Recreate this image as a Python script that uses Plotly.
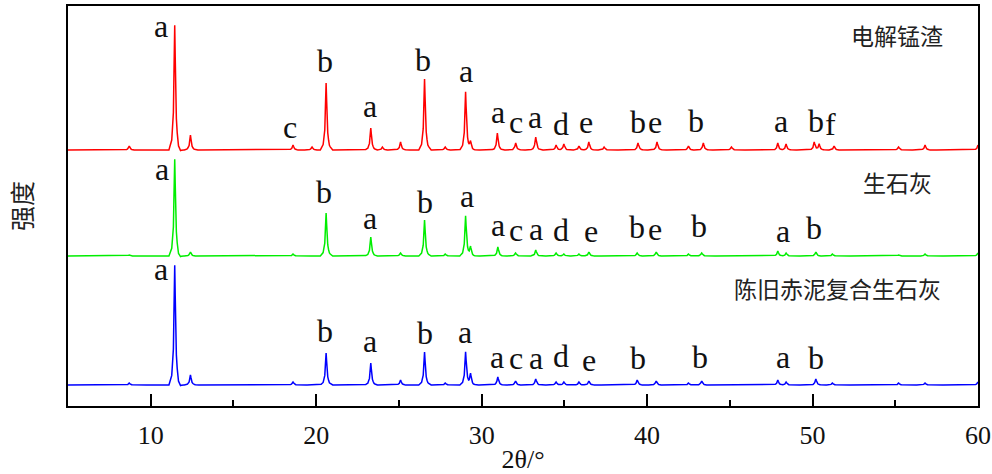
import numpy as np
import plotly.graph_objects as go

# ---------------- data ----------------
# peak positions (2θ, °) and peak heights (arbitrary intensity units) for each sample
red_pos = [8.7, 11.45, 11.68, 12.4, 18.6, 19.75, 20.6, 24.0, 23.3, 25.1, 26.55, 27.8, 29.03, 29.33,
           30.95, 32.06, 33.27, 34.5, 34.97, 35.88, 36.48, 37.4, 39.45, 40.6, 42.5, 43.4, 45.1,
           47.9, 48.4, 50.1, 50.4, 51.3, 55.2, 56.8, 60.0]
red_h = [4, 125, -3, 15, 5, 3, 67, 3, 22, 8, 71, 3, 58, 8,
         17, 7, 13, 5, 6, 4, 8, 3, 7, 8, 4, 7, 3,
         7, 6, 8, 6, 4, 3, 5, 5]

green_pos = [8.7, 11.45, 11.68, 12.4, 18.6, 20.6, 23.3, 25.1, 26.55, 27.8, 29.03, 29.33, 30.98,
             32.05, 33.27, 34.5, 34.97, 35.88, 36.48, 39.4, 40.55, 42.5, 43.3, 47.9, 48.4, 50.2,
             51.2, 55.2, 56.8, 60.0]
green_h = [1, 97, -3, 4, 2, 43, 19, 3, 36, 2, 40, 9, 9,
           3, 6, 3, 2, 2, 4, 3, 4, 2, 3, 5, 3, 4,
           2, 1, 2, 3]

blue_pos = [8.7, 11.45, 11.68, 12.4, 18.6, 20.6, 23.3, 25.1, 26.55, 27.8, 29.03, 29.33, 30.98,
            32.05, 33.27, 34.5, 34.97, 35.88, 36.48, 39.4, 40.55, 42.5, 43.3, 47.9, 48.4, 50.2,
            51.2, 55.2, 56.8, 60.0]
blue_h = [2, 120, -3, 10, 3, 32, 22, 5, 33, 2, 33, 11, 8,
          4, 6, 3, 3, 3, 4, 5, 4, 2, 4, 5, 3, 6,
          2, 2, 2, 3]

# vertical offsets of the stacked patterns
red_offset = 256
green_offset = 150
blue_offset = 21

# phase labels: 2θ position, label baseline height, letter
red_lbl_x = [10.65, 18.4, 20.55, 23.27, 26.45, 29.06, 31.0, 32.06, 33.24, 34.82, 36.33, 39.48, 40.5, 42.94, 48.12, 50.2, 51.1]
red_lbl_y = [369, 268, 334, 289, 335, 324, 283, 273, 278, 271, 273, 273, 273, 274, 274, 274, 271]
red_lbl_t = ["a", "c", "b", "a", "b", "a", "a", "c", "a", "d", "e", "b", "e", "b", "a", "b", "f"]

green_lbl_x = [10.7, 20.5, 23.27, 26.58, 29.1, 31.0, 32.06, 33.27, 34.8, 36.6, 39.36, 40.5, 43.15, 48.24, 50.1]
green_lbl_y = [226, 203, 177, 193, 199, 170, 165, 166, 165, 164, 168, 166, 169, 164, 167]
green_lbl_t = ["a", "b", "a", "b", "a", "a", "c", "a", "d", "e", "b", "e", "b", "a", "b"]

blue_lbl_x = [10.64, 20.55, 23.24, 26.58, 29.0, 30.94, 32.06, 33.27, 34.8, 36.5, 39.45, 43.2, 48.24, 50.2]
blue_lbl_y = [126, 64, 54, 62, 63, 38, 37, 37, 39, 35, 37, 38, 38, 37]
blue_lbl_t = ["a", "b", "a", "b", "a", "a", "c", "a", "d", "e", "b", "b", "a", "b"]

sample_names = ["电解锰渣", "生石灰", "陈旧赤泥复合生石灰"]
sample_name_x = [55.1, 55.15, 51.48]
sample_name_y = [371, 224, 118.5]

x_ticks = [10, 20, 30, 40, 50, 60]

# ---------------- build curves ----------------
shape_off = np.array([-0.35, -0.18, -0.08, -0.03, 0.0, 0.03, 0.08, 0.18, 0.35])
shape_frac = np.array([0, 0.08, 0.3, 0.75, 1.0, 0.75, 0.3, 0.08, 0])

all_pos = np.array(red_pos + green_pos + blue_pos)
grid = np.unique(np.round(np.concatenate([np.arange(5.0, 60.0001, 0.05),
                                          (all_pos[:, None] + shape_off[None, :]).ravel()]), 4))
grid = grid[(grid >= 5.0) & (grid <= 60.0)]


def pattern(pos, h, base):
    y = np.full_like(grid, float(base))
    for p, hh in zip(pos, h):
        y += hh * np.interp(grid, p + shape_off, shape_frac, left=0, right=0)
    return y


fig = go.Figure()
for name, pos, h, base, col in [("电解锰渣", red_pos, red_h, red_offset, "#FF0000"),
                                ("生石灰", green_pos, green_h, green_offset, "#00EE00"),
                                ("陈旧赤泥复合生石灰", blue_pos, blue_h, blue_offset, "#0000FF")]:
    fig.add_trace(go.Scatter(x=grid, y=pattern(pos, h, base), mode="lines",
                             line=dict(color=col, width=1.5), name=name, showlegend=False))

serif = "Liberation Serif, Times New Roman, serif"
annots = []
for xs, ys, ts in [(red_lbl_x, red_lbl_y, red_lbl_t), (green_lbl_x, green_lbl_y, green_lbl_t),
                   (blue_lbl_x, blue_lbl_y, blue_lbl_t)]:
    for x, y, t in zip(xs, ys, ts):
        annots.append(dict(x=x, y=y, text=t, showarrow=False, xanchor="center", yanchor="bottom",
                           yshift=-9, font=dict(family=serif, size=32, color="#111")))
for x, y, t in zip(sample_name_x, sample_name_y, sample_names):
    annots.append(dict(x=x, y=y, text=t, showarrow=False, xanchor="center", yanchor="middle",
                       font=dict(family="Noto Sans CJK SC", size=23, color="#222")))

fig.update_layout(
    width=992, height=474,
    margin=dict(l=68, r=14, t=6, b=68, autoexpand=False),
    paper_bgcolor="white", plot_bgcolor="white",
    annotations=annots,
    xaxis=dict(range=[5, 60], tickvals=x_ticks, ticks="inside", ticklen=12, tickwidth=2,
               tickcolor="black", showline=True, linewidth=2, linecolor="black", mirror=True,
               showgrid=False, zeroline=False, automargin=False,
               minor=dict(dtick=5, tick0=5, ticks="inside", ticklen=6, tickwidth=2, tickcolor="black"),
               tickfont=dict(family=serif, size=26, color="#111"),
               ticklabelstandoff=5,
               title=dict(text="2θ/°", font=dict(family=serif, size=26, color="#111"),
                          standoff=4)),
    yaxis=dict(range=[0, 400], showticklabels=False, ticks="", showline=True, linewidth=2,
               linecolor="black", mirror=True, showgrid=False, zeroline=False, automargin=False,
               title=dict(text="强度", font=dict(family="Noto Sans CJK SC", size=25, color="#222"),
                          standoff=26)),
)

fig.write_html("out.html")
